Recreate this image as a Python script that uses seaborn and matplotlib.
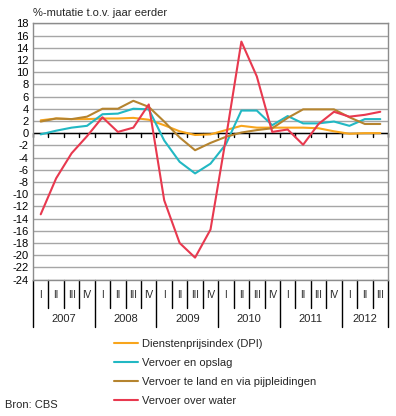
import matplotlib
matplotlib.use("Agg")
import matplotlib.pyplot as plt
import matplotlib.transforms as mtransforms
import seaborn as sns
import pandas as pd
import numpy as np

sns.set_theme(style="white")
plt.rcParams['font.family'] = ['Liberation Sans', 'DejaVu Sans']

quarters = ["I", "II", "III", "IV"] * 5 + ["I", "II", "III"]
years = ["2007", "2008", "2009", "2010", "2011", "2012"]
year_quarters = [4, 4, 4, 4, 4, 3]

dpi_idx = [2.1, 2.4, 2.3, 2.3, 2.4, 2.4, 2.5, 2.2, 1.3, 0.3, -0.3, -0.2,
           0.5, 1.2, 0.9, 0.9, 0.9, 0.9, 0.8, 0.3, -0.1, 0.0, 0.0]
opslag = [-0.2, 0.4, 0.9, 1.2, 3.1, 3.2, 4.0, 3.9, -1.2, -4.7, -6.6, -5.0,
          -1.8, 3.7, 3.7, 1.3, 2.8, 1.6, 1.6, 1.9, 1.2, 2.3, 2.3]
land = [1.9, 2.4, 2.3, 2.7, 4.0, 4.0, 5.3, 4.3, 1.9, -0.7, -2.8, -1.6,
        -0.6, 0.1, 0.5, 0.8, 2.5, 3.9, 3.9, 3.9, 2.6, 1.5, 1.5]
water = [-13.3, -7.4, -3.3, -0.5, 2.6, 0.2, 0.9, 4.7, -11.0, -18.0, -20.4, -15.8,
         -0.8, 15.0, 9.3, 0.2, 0.6, -1.9, 1.5, 3.5, 2.7, 3.0, 3.5]

series_names = ["Dienstenprijsindex (DPI)", "Vervoer en opslag",
                "Vervoer te land en via pijpleidingen", "Vervoer over water"]
colors = ["#F8A51C", "#22B8C3", "#B5842F", "#E8394F"]

n = len(quarters)
rows = []
for name, vals in zip(series_names, [dpi_idx, opslag, land, water]):
    for i, v in enumerate(vals):
        rows.append({"pos": i, "value": v, "serie": name})
df = pd.DataFrame(rows)

W, H = 396, 416
fig = plt.figure(figsize=(W / 100, H / 100), dpi=100)
ax_left, ax_right, ax_top, ax_bot = 33, 388, 23.3, 279.6
ax = fig.add_axes([ax_left / W, (H - ax_bot) / H, (ax_right - ax_left) / W, (ax_bot - ax_top) / H])

sns.lineplot(data=df, x="pos", y="value", hue="serie", hue_order=series_names,
             palette=colors, linewidth=1.5, ax=ax, legend=True)

ax.set_xlim(-0.5, n - 0.5)
ax.set_ylim(-24, 18)
ax.set_yticks(np.arange(-24, 19, 2))
ax.set_yticklabels([str(v) for v in range(-24, 19, 2)], fontsize=8)
ax.tick_params(axis="y", length=0, pad=3, colors="black")
ax.set_xticks([])
ax.set_xlabel("")
ax.set_ylabel("")
ax.yaxis.grid(True, color="#A6A6A6", linewidth=1)
ax.set_axisbelow(True)
for sp in ax.spines.values():
    sp.set_color("#8C8C8C")
    sp.set_linewidth(1)

# zero line with small ticks
ax.axhline(0, color="black", linewidth=1, zorder=1.5)
for b in np.arange(-0.5, n, 1.0):
    ax.plot([b, b], [0, -0.65], color="black", linewidth=1, zorder=1.5, clip_on=False)

# category axis below
trans = mtransforms.blended_transform_factory(ax.transData, fig.transFigure)
y_axis = (H - ax_bot) / H
y_q = (H - 308) / H
y_y = (H - 327) / H
year_bounds = [-0.5]
for k in year_quarters:
    year_bounds.append(year_bounds[-1] + k)
for b in np.arange(-0.5, n, 1.0):
    is_year = any(abs(b - yb) < 1e-6 for yb in year_bounds)
    ax.plot([b, b], [y_axis, y_y if is_year else y_q], color="black", linewidth=1,
            transform=trans, clip_on=False)
for i, q in enumerate(quarters):
    ax.text(i, (H - 295) / H, q, transform=trans, ha="center", va="center", fontsize=7)
for j, yr in enumerate(years):
    c = (year_bounds[j] + year_bounds[j + 1]) / 2
    ax.text(c, (H - 318.5) / H, yr, transform=trans, ha="center", va="center", fontsize=8)

# title and source
fig.text(33 / W, (H - 12.5) / H, "%-mutatie t.o.v. jaar eerder", ha="left", va="center", fontsize=8)
fig.text(5 / W, (H - 405) / H, "Bron: CBS", ha="left", va="center", fontsize=8)

handles, labels = ax.get_legend_handles_labels()
ax.legend_.remove()
leg = fig.legend(handles, labels, loc="upper left", bbox_to_anchor=(114 / W, (H - 339) / H),
                 frameon=False, fontsize=8, handlelength=2.2, handletextpad=0.35,
                 labelspacing=0.82, borderpad=0, borderaxespad=0)

fig.savefig("out.png", dpi=100)
